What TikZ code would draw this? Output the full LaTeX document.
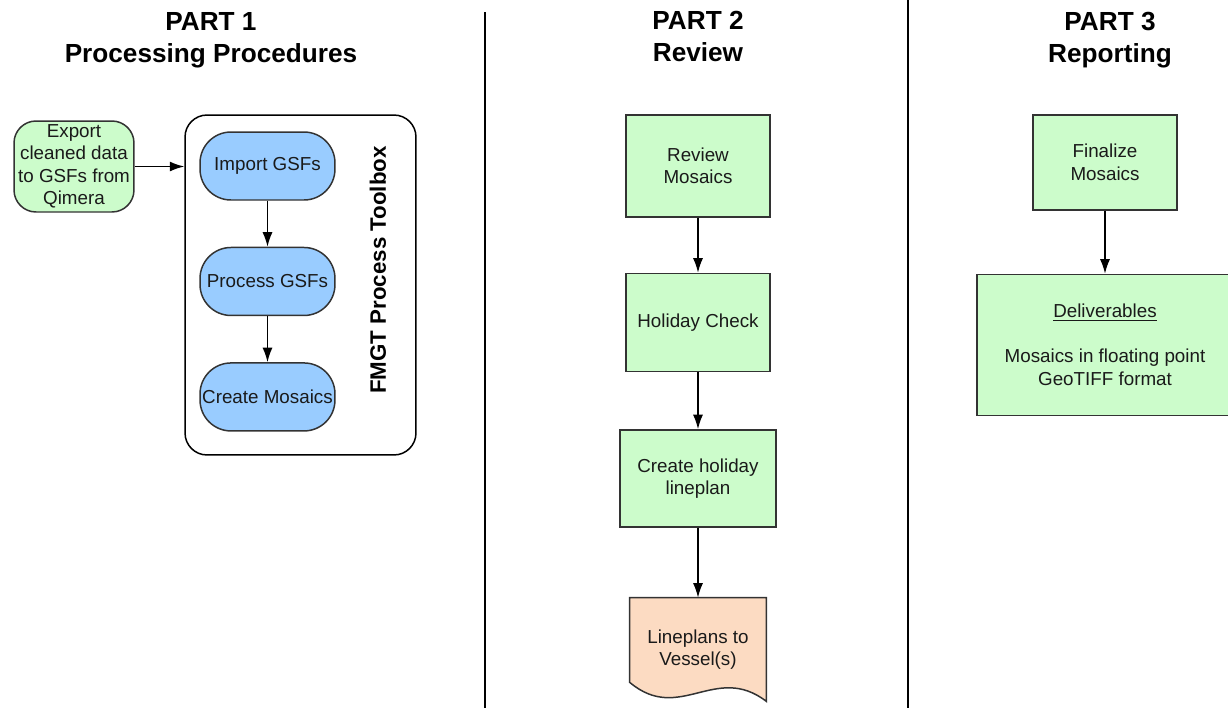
\documentclass[tikz,border=0pt]{standalone}
\usepackage{fontspec}
\setmainfont{Liberation Sans}
\usepackage{xcolor}
\usetikzlibrary{positioning,arrows.meta,backgrounds}

\definecolor{stepgreen}{HTML}{CCFCCB}
\definecolor{toolblue}{HTML}{99CCFF}
\definecolor{docpeach}{HTML}{FCDBC2}
\definecolor{edgegray}{HTML}{333333}
\definecolor{textgray}{HTML}{1A1A1A}

\newcommand{\stepfont}{\fontsize{10.7}{12.8}\selectfont}
\newcommand{\partfont}{\fontsize{14.9}{18.2}\selectfont\bfseries}

\begin{document}
\begin{tikzpicture}[x=0.02cm, y=-0.02cm, node distance=1.1cm,
  greenbox/.style={rectangle, draw=edgegray, fill=stepgreen, line width=0.85pt, align=center, font=\stepfont, text=textgray, minimum width=2.88cm, inner sep=0pt},
  toolstep/.style={rectangle, rounded corners=0.62cm, draw=edgegray, fill=toolblue, line width=0.85pt, align=center, font=\stepfont, text=textgray, minimum width=2.7cm, minimum height=1.36cm, inner sep=0pt},
  parttitle/.style={align=center, font=\partfont},
  flow/.style={-{Latex[length=0.29cm,width=0.2cm]}, line width=0.85pt}]

  \useasboundingbox (0,0) rectangle (1228,708);

  % Titles of the three parts
  \node[parttitle] (PartOne) at (211,40) {PART 1\\Processing Procedures};
  \node[parttitle] (PartTwo) at (698,36.5) {PART 2\\Review};
  \node[parttitle] (PartThree) at (1110,40) {PART 3\\Reporting};

  % Column separators
  \draw[line width=0.6pt] (485,12) -- (485,708);
  \draw[line width=0.6pt] (908,0) -- (908,708);

  % Part 1: export and the toolbox
  \node[greenbox, rounded corners=0.44cm, minimum width=2.4cm, minimum height=1.82cm] (Export) at (74,166.5) {Export\\cleaned data\\to GSFs from\\Qimera};
  \node[rectangle, rounded corners=0.44cm, draw=black, line width=0.85pt, minimum width=4.62cm, minimum height=6.8cm] (Toolbox) at (300.5,285) {};
  \node[toolstep] (ImportGSFs) at (267.5,166) {Import GSFs};
  \node[toolstep, below=0.92cm of ImportGSFs] (ProcessGSFs) {Process GSFs};
  \node[toolstep, below=0.92cm of ProcessGSFs] (CreateMosaics) {Create Mosaics};
  \node[rotate=90, font=\fontsize{12.7}{15}\selectfont\bfseries] (ToolboxLabel) at (378,270) {FMGT Process Toolbox};

  % Part 2: review steps
  \node[greenbox, minimum height=2.04cm] (ReviewMosaics) at (698,166) {Review\\Mosaics};
  \node[greenbox, minimum height=1.96cm, below=of ReviewMosaics] (HolidayCheck) {Holiday Check};
  \node[greenbox, minimum width=3.12cm, minimum height=1.94cm, below=1.14cm of HolidayCheck] (HolidayLineplan) {Create holiday\\lineplan};
  \node[align=center, font=\stepfont, text=textgray, minimum width=2.72cm, minimum height=2.06cm, inner sep=0pt, below=1.4cm of HolidayLineplan] (Lineplans) {Lineplans to\\Vessel(s)};
  \begin{pgfonlayer}{background}
    \draw[draw=edgegray, fill=docpeach, line width=0.85pt] (Lineplans.north west) -- (Lineplans.north east) -- (Lineplans.south east)
      .. controls +(-1.02cm,0.78cm) and +(1.0cm,-0.84cm) .. ([yshift=0.38cm]Lineplans.south west) -- cycle;
  \end{pgfonlayer}

  % Part 3: reporting
  \node[greenbox, minimum height=1.9cm] (FinalizeMosaics) at (1105,162.5) {Finalize\\Mosaics};
  \node[greenbox, minimum width=5.12cm, minimum height=2.82cm, below=1.26cm of FinalizeMosaics] (Deliverables) {\underline{Deliverables}\\ \\Mosaics in floating point\\GeoTIFF format};

  % Edges
  \draw[flow] (Export) -- (Export -| Toolbox.west);
  \draw[flow] (ImportGSFs) -- (ProcessGSFs);
  \draw[flow] (ProcessGSFs) -- (CreateMosaics);
  \draw[flow] (ReviewMosaics) -- (HolidayCheck);
  \draw[flow] (HolidayCheck) -- (HolidayLineplan);
  \draw[flow] (HolidayLineplan) -- (Lineplans);
  \draw[flow] (FinalizeMosaics) -- (FinalizeMosaics |- Deliverables.north);

\end{tikzpicture}
\end{document}
